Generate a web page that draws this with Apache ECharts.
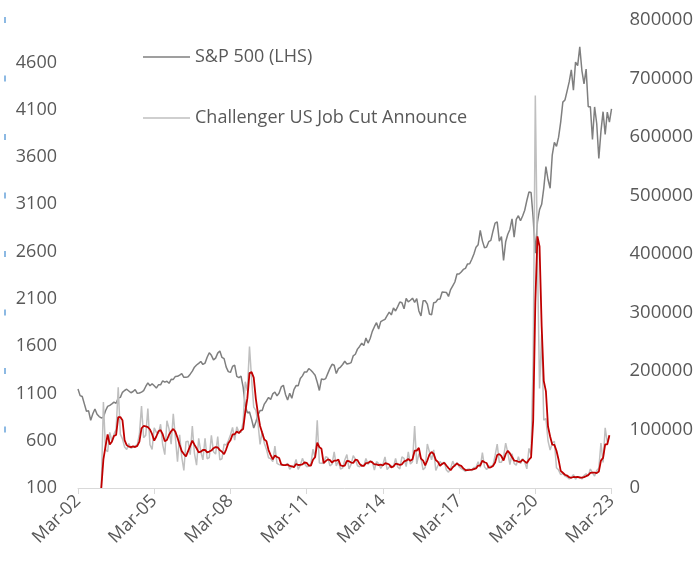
<!DOCTYPE html>
<html>
<head>
<meta charset="utf-8">
<script src="https://cdn.jsdelivr.net/npm/echarts@6/dist/echarts.min.js"></script>
<style>
  html, body { margin: 0; padding: 0; background: #fff; }
  #chart { width: 696px; height: 565px; }
</style>
</head>
<body>
<div id="chart"></div>
<script>
// monthly categories, Mar-02 .. Mar-23
const monthNames = ['Jan', 'Feb', 'Mar', 'Apr', 'May', 'Jun', 'Jul', 'Aug', 'Sep', 'Oct', 'Nov', 'Dec']
const categories = []
for (let y = 2002; y <= 2023; y++) {
  for (let m = 0; m < 12; m++) {
    if ((y === 2002 && m < 2) || (y === 2023 && m > 2)) continue
    categories.push(monthNames[m] + '-' + String(y).slice(2))
  }
}

// S&P 500 month-end level (LHS)
const spx = [
  1147.39, 1076.92, 1067.14, 989.82, 911.62, 916.07, 815.28, 885.76, 936.31, 879.82,
  855.70, 841.15, 848.18, 916.92, 963.59, 974.50, 990.31, 1008.01, 995.97, 1050.71, 1058.20, 1111.92,
  1131.13, 1144.94, 1126.21, 1107.30, 1120.68, 1140.84, 1101.72, 1104.24, 1114.58, 1130.20, 1173.82, 1211.92,
  1181.27, 1203.60, 1180.59, 1156.85, 1191.50, 1191.33, 1234.18, 1220.33, 1228.81, 1207.01, 1249.48, 1248.29,
  1280.08, 1280.66, 1294.83, 1310.61, 1270.09, 1270.20, 1276.66, 1303.82, 1335.85, 1377.94, 1400.63, 1418.30,
  1438.24, 1406.82, 1420.86, 1482.37, 1530.62, 1503.35, 1455.27, 1473.99, 1526.75, 1549.38, 1481.14, 1468.36,
  1378.55, 1330.63, 1322.70, 1385.59, 1400.38, 1280.00, 1267.38, 1282.83, 1166.36, 968.75, 896.24, 903.25,
  825.88, 735.09, 797.87, 872.81, 919.14, 919.32, 987.48, 1020.62, 1057.08, 1036.19, 1095.63, 1115.10,
  1073.87, 1104.49, 1169.43, 1186.69, 1089.41, 1030.71, 1101.60, 1049.33, 1141.20, 1183.26, 1180.55, 1257.64,
  1286.12, 1327.22, 1325.83, 1363.61, 1345.20, 1320.64, 1292.28, 1218.89, 1131.42, 1253.30, 1246.96, 1257.60,
  1312.41, 1365.68, 1408.47, 1397.91, 1310.33, 1362.16, 1379.32, 1406.58, 1440.67, 1412.16, 1416.18, 1426.19,
  1498.11, 1514.68, 1569.19, 1597.57, 1630.74, 1606.28, 1685.73, 1632.97, 1681.55, 1756.54, 1805.81, 1848.36,
  1782.59, 1859.45, 1872.34, 1883.95, 1923.57, 1960.23, 1930.67, 2003.37, 1972.29, 2018.05, 2067.56, 2058.90,
  1994.99, 2104.50, 2067.89, 2085.51, 2107.39, 2063.11, 2103.84, 1972.18, 1920.03, 2079.36, 2080.41, 2043.94,
  1940.24, 1932.23, 2059.74, 2065.30, 2096.95, 2098.86, 2173.60, 2170.95, 2168.27, 2126.15, 2198.81, 2238.83,
  2278.87, 2363.64, 2362.72, 2384.20, 2411.80, 2423.41, 2470.30, 2471.65, 2519.36, 2575.26, 2647.58, 2673.61,
  2823.81, 2713.83, 2640.87, 2648.05, 2705.27, 2718.37, 2816.29, 2901.52, 2913.98, 2711.74, 2760.17, 2506.85,
  2704.10, 2784.49, 2834.40, 2945.83, 2752.06, 2941.76, 2980.38, 2926.46, 2976.74, 3037.56, 3140.98, 3230.78,
  3225.52, 2954.22, 2584.59, 2912.43, 3044.31, 3100.29, 3271.12, 3500.31, 3363.00, 3269.96, 3621.63, 3756.07,
  3714.24, 3811.15, 3972.89, 4181.17, 4204.11, 4297.50, 4395.26, 4522.68, 4307.54, 4605.38, 4567.00, 4766.18,
  4515.55, 4373.94, 4530.41, 4131.93, 4132.15, 3785.38, 4130.29, 3955.00, 3585.62, 3871.98, 4080.11, 3839.50,
  4076.60, 3970.15, 4109.31
]

// Challenger job cut announcements (RHS)
const jobCuts = [
  null, null, null, null, null, null, null, null, null, null,
  null, 0, 147000, 66000, 62000, 95000, 80000, 92000, 100000, 172000, 92000, 84000,
  70000, 66000, 76000, 68000, 70000, 72000, 74000, 92000, 140000, 86000, 90000, 136000,
  74000, 66000, 103000, 95000, 93000, 109000, 74000, 57000, 115000, 101000, 75000, 127000,
  86000, 45000, 91000, 53000, 30000, 79000, 80000, 57000, 106000, 59000, 39000, 85000,
  62000, 48000, 85000, 50000, 52000, 90000, 62000, 58000, 88000, 48000, 50000, 75000,
  73500, 80600, 90500, 103500, 81800, 104500, 95100, 95100, 112900, 181700, 166300, 241700,
  186400, 138200, 132600, 111200, 74400, 97400, 76500, 66400, 51700, 50300, 45100, 71500,
  42100, 40000, 38800, 38800, 39400, 42000, 32000, 37200, 37200, 48700, 32000, 38500,
  50700, 41500, 36500, 37100, 41400, 66400, 51100, 115700, 42800, 42500, 41800, 53500,
  51700, 37900, 40600, 61900, 37600, 46300, 32200, 34300, 47700, 57100, 32600, 40400,
  55400, 49300, 38100, 36400, 39400, 37700, 50500, 40300, 45700, 45300, 30600, 45100,
  41800, 33500, 40300, 53000, 31400, 35900, 38200, 36000, 50500, 35900, 32600, 53000,
  50600, 36600, 61600, 41000, 44800, 105700, 41200, 58900, 50500, 31000, 35000, 75100,
  61600, 48200, 65100, 30200, 38500, 45300, 40200, 44300, 30700, 26900, 33600, 45900,
  37000, 43300, 36600, 33100, 31100, 28300, 32200, 32300, 29800, 35000, 35400, 44700,
  35400, 60400, 36100, 31500, 37200, 37200, 38500, 55300, 75000, 43900, 43900, 53000,
  76800, 60600, 40000, 58600, 42000, 38800, 53500, 41600, 50300, 44600, 32800, 67700,
  56700, 222300, 671100, 397000, 170200, 262600, 115800, 118800, 80700, 64800, 77000, 79600,
  34500, 30600, 22900, 24600, 20500, 18900, 15700, 17900, 22800, 14900, 19100, 19100,
  15200, 21400, 24300, 20700, 32500, 25800, 20500, 30000, 33800, 76800, 43700, 102900,
  77800, 89700, null
]

// smoothed job cuts (red line, no legend entry)
const jobCutsAvg = [
  null, null, null, null, null, null, null, null, null, null,
  null, 0, 49000, 71000, 91700, 74300, 79000, 89000, 90700, 121300, 121300, 116000,
  82000, 73300, 70700, 70000, 71300, 70000, 72000, 79300, 102000, 106000, 105300, 104000,
  100000, 92000, 81000, 88000, 97000, 99000, 92000, 80000, 82000, 91000, 97000, 101000,
  96000, 86000, 74000, 63000, 58000, 54000, 63000, 72000, 81000, 74000, 68000, 61000,
  62000, 65000, 65000, 61000, 62300, 64000, 68000, 70000, 69300, 64700, 62000, 57700,
  66200, 76400, 81500, 91500, 91900, 96600, 93800, 98200, 101000, 129900, 153600, 196600,
  198100, 188800, 152400, 127300, 106100, 94300, 82800, 80100, 64900, 56100, 49000, 55600,
  52900, 51200, 40300, 39200, 39000, 40100, 37800, 37100, 35500, 41000, 39300, 39700,
  40400, 43600, 42900, 38400, 38300, 48300, 53000, 77700, 69900, 67000, 42400, 45900,
  49000, 47700, 43400, 46800, 46700, 48600, 38700, 37600, 38100, 46400, 45800, 43400,
  42800, 48400, 47600, 41300, 38000, 37800, 42500, 42800, 45500, 43800, 40500, 40300,
  39200, 40100, 38500, 42300, 41600, 40100, 35200, 36700, 41600, 40800, 39700, 40500,
  45400, 46700, 49600, 46400, 49100, 63800, 63900, 68600, 50200, 46800, 38800, 47000,
  57200, 61600, 58300, 47800, 44600, 38000, 41300, 43300, 38400, 34000, 30400, 35500,
  38800, 42100, 39000, 37700, 33600, 30800, 30500, 30900, 31400, 32400, 33400, 38400,
  38500, 46800, 44000, 42700, 34900, 35300, 37600, 43700, 56300, 58100, 54300, 46900,
  57900, 63500, 59100, 53100, 46900, 46500, 44800, 44600, 48500, 45500, 42600, 48400,
  52400, 115600, 316700, 430100, 412800, 276600, 182900, 165700, 105100, 88100, 74200, 73800,
  63700, 48200, 29300, 26000, 22700, 21300, 18400, 17500, 18800, 18500, 18900, 17700,
  17800, 18600, 20300, 22100, 25800, 26300, 26300, 25400, 28100, 46900, 51400, 74500,
  74800, 90100, null
]

// small blue marks on the far left edge of the picture
const edgeMarks = [100000, 200000, 300000, 400000, 500000, 600000, 700000, 800000]

const font = 'Open Sans'
const labelColor = '#595959'

const chart = echarts.init(document.getElementById('chart'))

chart.setOption({
  animation: false,
  textStyle: { fontFamily: font },
  grid: [
    { left: 78, right: 84, top: 20, bottom: 77 },
    { left: 2, width: 6, top: 20, bottom: 77 },
  ],
  legend: [
    {
      data: ['S&P 500 (LHS)'],
      left: 143,
      top: 48,
      padding: 0,
      icon: 'rect',
      itemWidth: 47,
      itemHeight: 1.5,
      selectedMode: false,
      textStyle: { color: labelColor, fontSize: 18, fontFamily: font },
    },
    {
      data: ['Challenger US Job Cut Announce'],
      left: 143,
      top: 109,
      padding: 0,
      icon: 'rect',
      itemWidth: 47,
      itemHeight: 1.5,
      selectedMode: false,
      textStyle: { color: labelColor, fontSize: 18, fontFamily: font },
    },
  ],
  xAxis: [
    {
      type: 'category',
      data: categories,
      boundaryGap: false,
      axisLine: { lineStyle: { color: '#d9d9d9', width: 1 } },
      axisTick: { interval: 35, length: 6, lineStyle: { color: '#d9d9d9' } },
      axisLabel: {
        interval: 35,
        rotate: 45,
        margin: 10,
        color: labelColor,
        fontSize: 18,
        fontFamily: font,
      },
      splitLine: { show: false },
    },
    { type: 'value', gridIndex: 1, min: 0, max: 1, show: false },
  ],
  yAxis: [
    {
      type: 'value',
      min: 100,
      max: 5050,
      interval: 500,
      axisLine: { show: false },
      axisTick: { show: false },
      splitLine: { show: false },
      axisLabel: {
        showMaxLabel: false,
        margin: 21,
        color: labelColor,
        fontSize: 18,
        fontFamily: font,
        formatter: (v) => String(v),
      },
    },
    {
      type: 'value',
      position: 'right',
      min: 0,
      max: 800000,
      interval: 100000,
      axisLine: { show: false },
      axisTick: { show: false },
      splitLine: { show: false },
      axisLabel: {
        margin: 18,
        color: labelColor,
        fontSize: 18.5,
        fontFamily: font,
        formatter: (v) => String(v),
      },
    },
    { type: 'value', gridIndex: 1, min: 0, max: 800000, show: false },
  ],
  series: [
    {
      name: 'S&P 500 (LHS)',
      type: 'line',
      data: spx,
      yAxisIndex: 0,
      showSymbol: false,
      color: '#7f7f7f',
      lineStyle: { color: '#7f7f7f', width: 1.5 },
    },
    {
      name: 'Challenger US Job Cut Announce',
      type: 'line',
      data: jobCuts,
      yAxisIndex: 1,
      showSymbol: false,
      color: '#bfbfbf',
      lineStyle: { color: '#bfbfbf', width: 1.5 },
    },
    {
      name: 'Job cuts (smoothed)',
      type: 'line',
      data: jobCutsAvg,
      yAxisIndex: 1,
      showSymbol: false,
      color: '#c00000',
      lineStyle: { color: '#c00000', width: 1.8 },
    },
    {
      type: 'scatter',
      xAxisIndex: 1,
      yAxisIndex: 2,
      data: edgeMarks.map((v) => [0.5, v]),
      symbol: 'rect',
      symbolSize: [2, 6],
      itemStyle: { color: '#6fa8dc' },
      silent: true,
    },
  ],
})
</script>
</body>
</html>
